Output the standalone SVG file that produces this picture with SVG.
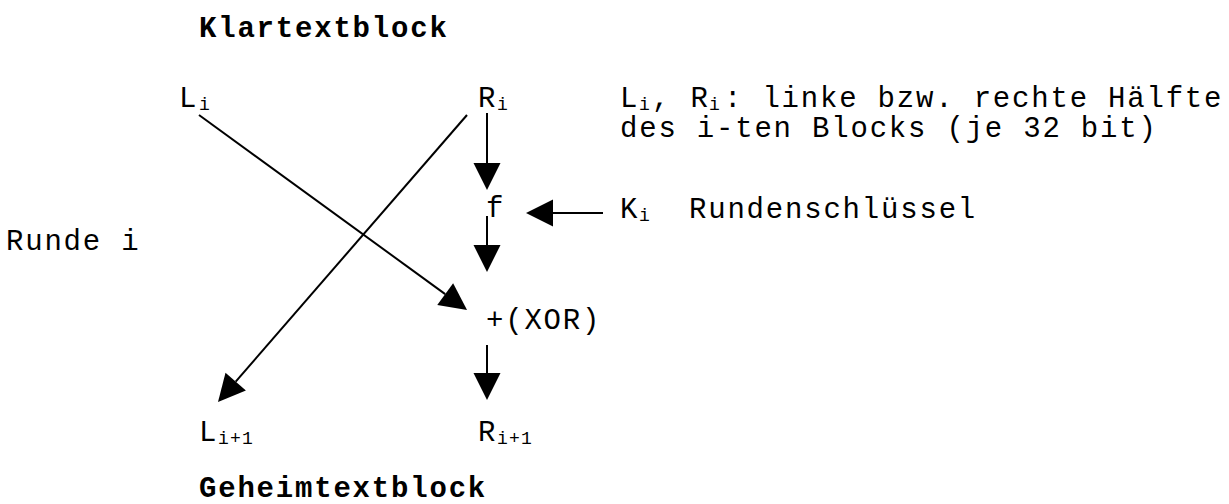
<svg xmlns="http://www.w3.org/2000/svg" width="1229" height="504" viewBox="0 0 1229 504">
  <style>
    text { font-family: "Courier New", "Liberation Mono", monospace; font-size: 29px; letter-spacing: 1.8px; fill: #000; }
    .title { font-weight: bold; }
    .sub { font-size: 18px; letter-spacing: 1.2px; }
    .wire { stroke: #000; stroke-width: 2; fill: none; marker-end: url(#head); }
  </style>
  <defs>
    <!-- filled triangular arrowhead, anchored at its base so the line stops where the head begins -->
    <marker id="head" markerUnits="userSpaceOnUse" markerWidth="28" markerHeight="28" refX="0" refY="13.5" orient="auto" overflow="visible">
      <path d="M0,0 L27,13.5 L0,27 Z" fill="#000"/>
    </marker>
  </defs>
  <rect width="1229" height="504" fill="#fff"/>

  <!-- headings -->
  <g id="plaintext-title">
    <text class="title" x="199" y="37">Klartextblock</text>
  </g>
  <g id="ciphertext-title">
    <text class="title" x="199" y="497">Geheimtextblock</text>
  </g>

  <!-- round label -->
  <g id="round-label">
    <text x="6" y="250">Runde i</text>
  </g>

  <!-- input halves -->
  <g id="node-Li">
    <text x="179" y="107">L<tspan class="sub" x="199" dy="3">i</tspan></text>
  </g>
  <g id="node-Ri">
    <text x="478" y="107">R<tspan class="sub" x="497" dy="3">i</tspan></text>
  </g>

  <!-- legend for the halves -->
  <g id="legend-halves">
    <text x="620" y="107">L<tspan class="sub" x="639" dy="3">i</tspan><tspan x="652" dy="-3">, R</tspan><tspan class="sub" x="709" dy="3">i</tspan><tspan x="724" dy="-3">: linke bzw. rechte Hälfte</tspan></text>
    <text x="620" y="137">des i-ten Blocks (je 32 bit)</text>
  </g>

  <!-- round function -->
  <g id="node-f">
    <text x="486" y="217">f</text>
  </g>

  <!-- round key -->
  <g id="node-Ki">
    <text x="620" y="218">K<tspan class="sub" x="639" dy="3">i</tspan><tspan x="689" dy="-3">Rundenschlüssel</tspan></text>
  </g>

  <!-- XOR combiner -->
  <g id="node-xor">
    <text x="486" y="329">+(XOR)</text>
  </g>

  <!-- output halves -->
  <g id="node-Li1">
    <text x="199" y="441">L<tspan class="sub" x="218" dy="3">i+1</tspan></text>
  </g>
  <g id="node-Ri1">
    <text x="478" y="441">R<tspan class="sub" x="497" dy="3">i+1</tspan></text>
  </g>

  <!-- connectors -->
  <g id="connectors">
    <line class="wire" x1="487" y1="113" x2="487" y2="163"/>
    <line class="wire" x1="487" y1="216" x2="487" y2="245"/>
    <line class="wire" x1="487" y1="345" x2="487" y2="373"/>
    <line class="wire" x1="603" y1="213" x2="553" y2="213"/>
    <line class="wire" x1="199" y1="115" x2="445.2" y2="294.1"/>
    <line class="wire" x1="467" y1="115" x2="235.7" y2="381.6"/>
  </g>
</svg>
